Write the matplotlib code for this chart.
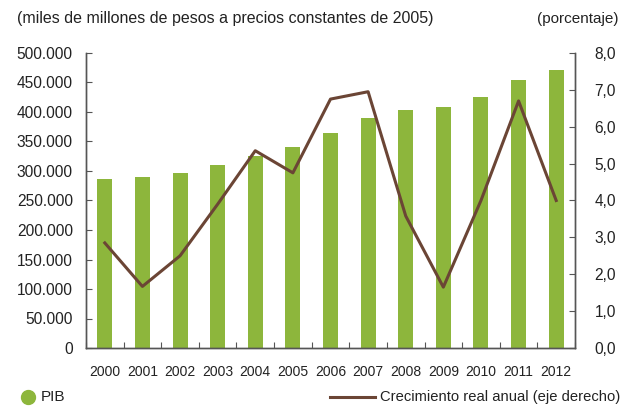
import matplotlib
matplotlib.use("Agg")
import matplotlib.pyplot as plt
from matplotlib.lines import Line2D
from matplotlib.ticker import FuncFormatter, FixedLocator
import numpy as np

plt.rcParams['font.family'] = ['Liberation Sans', 'DejaVu Sans']

years = ['2000', '2001', '2002', '2003', '2004', '2005', '2006', '2007',
         '2008', '2009', '2010', '2011', '2012']
pib = [286000, 290000, 296500, 309500, 326000, 341000, 365000, 390000,
       403000, 408000, 426000, 455000, 472000]
crecimiento = [2.85, 1.67, 2.5, 3.9, 5.35, 4.75, 6.75, 6.95, 3.58, 1.65, 4.0, 6.7, 4.0]

GREEN = '#8db63c'
BROWN = '#6b4535'
SPINE = '#555555'
TXT = '#222222'

W, H = 625, 407
fig = plt.figure(figsize=(W / 100, H / 100), dpi=100)
ax = fig.add_axes([86 / W, 1 - 348 / H, (575 - 86) / W, (348 - 53) / H])
ax2 = ax.twinx()

x = np.arange(len(years))
ax.bar(x, pib, width=0.4, color=GREEN, zorder=2)
ax.set_xlim(-0.5, len(years) - 0.5)
ax.set_ylim(0, 500000)
ax.set_yticks(np.arange(0, 500001, 50000))
ax.yaxis.set_major_formatter(FuncFormatter(lambda v, p: f"{int(v):,}".replace(',', '.')))
ax.set_xticks(x)
ax.set_xticklabels(years)
ax.xaxis.set_minor_locator(FixedLocator(np.arange(-0.5, len(years), 1.0)))
ax.tick_params(axis='x', which='major', length=0, labelsize=10, pad=12, colors=TXT)
ax.tick_params(axis='x', which='minor', length=4, direction='in', color=SPINE, width=0.8)
ax.tick_params(axis='y', length=4, direction='in', color=SPINE, width=0.8,
               labelsize=11.2, pad=9.5, colors=TXT)

ax2.plot(x, crecimiento, color=BROWN, linewidth=2.2, zorder=3)
ax2.set_ylim(0, 8)
ax2.set_yticks(np.arange(0, 8.01, 1))
ax2.yaxis.set_major_formatter(FuncFormatter(lambda v, p: f"{v:.1f}".replace('.', ',')))
ax2.tick_params(axis='y', length=4, direction='in', color=SPINE, width=0.8,
                labelsize=11.2, pad=14, colors=TXT)

for a in (ax, ax2):
    a.spines['top'].set_visible(False)
    for s in ('left', 'right', 'bottom'):
        a.spines[s].set_color(SPINE)
        a.spines[s].set_linewidth(1.0)

fig.text(17 / W, 1 - 19 / H, '(miles de millones de pesos a precios constantes de 2005)',
         fontsize=11.5, color=TXT, va='center', ha='left')
fig.text(619 / W, 1 - 19 / H, '(porcentaje)', fontsize=11, color=TXT,
         va='center', ha='right')

# Legend
fig.add_artist(Line2D([28 / W], [1 - 397 / H], marker='o', markersize=10, color=GREEN,
                      linestyle='none', transform=fig.transFigure))
fig.text(41 / W, 1 - 397 / H, 'PIB', fontsize=11, color=TXT, va='center', ha='left')
fig.add_artist(Line2D([330 / W, 375 / W], [1 - 397 / H, 1 - 397 / H], color=BROWN,
                      linewidth=2.2, transform=fig.transFigure))
fig.text(620 / W, 1 - 397 / H, 'Crecimiento real anual (eje derecho)', fontsize=10.6,
         color=TXT, va='center', ha='right')

fig.savefig('out.png', dpi=100)
